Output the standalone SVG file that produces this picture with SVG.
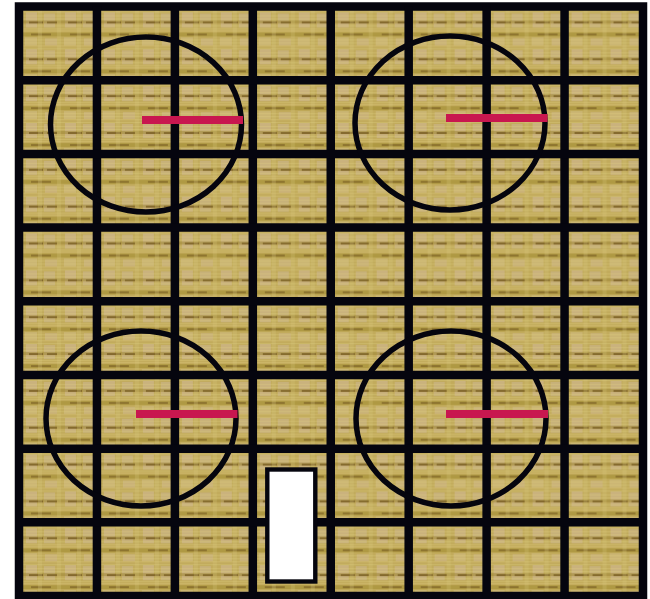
<svg xmlns="http://www.w3.org/2000/svg" width="650" height="599" viewBox="0 0 650 599">
  <style>
    .grid { stroke: #05050e; stroke-width: 8.5; fill: none; }
    .ring { stroke: #05050e; stroke-width: 5.5; fill: none; }
    .bar { stroke: #c8174f; stroke-width: 8; }
  </style>
  <defs>
    <pattern id="tex" patternUnits="userSpaceOnUse" x="23" y="10.5" width="38.97" height="36.845">
      <rect width="39" height="37" fill="#c2ab5c"/>
      <rect x="3" y="2" width="11" height="15" fill="#cfb893" opacity="0.6"/>
      <rect x="21" y="3" width="11" height="14" fill="#ccb591" opacity="0.55"/>
      <rect x="0" y="10" width="39" height="3" fill="#9a8232" opacity="0.5"/>
      <rect x="6" y="11" width="14" height="2" fill="#74581e" opacity="0.75"/>
      <rect x="24" y="11" width="10" height="2" fill="#74581e" opacity="0.7"/>
      <rect x="0" y="22" width="39" height="4" fill="#a08a30" opacity="0.55"/>
      <rect x="8" y="23" width="20" height="2" fill="#7a6024" opacity="0.65"/>
      <rect x="2" y="27" width="12" height="8" fill="#d4c08a" opacity="0.5"/>
      <rect x="22" y="28" width="12" height="7" fill="#cfb892" opacity="0.5"/>
      <rect x="15" y="0" width="4" height="37" fill="#d6c67a" opacity="0.3"/>
      <rect x="34" y="0" width="4" height="37" fill="#d6c67a" opacity="0.25"/>
      <g fill="#e2d283" opacity="0.3">
        <rect x="0" y="1" width="39" height="1"/>
        <rect x="0" y="5" width="39" height="1"/>
        <rect x="0" y="8" width="39" height="1"/>
        <rect x="0" y="15" width="39" height="1"/>
        <rect x="0" y="18" width="39" height="1"/>
        <rect x="0" y="20" width="39" height="1"/>
        <rect x="0" y="29" width="39" height="1"/>
        <rect x="0" y="32" width="39" height="1"/>
        <rect x="0" y="35" width="39" height="1"/>
      </g>
    </pattern>
  </defs>

  <rect width="650" height="599" fill="#ffffff"/>

  <g id="board">
    <rect x="19" y="6.5" width="623.5" height="589.5" fill="url(#tex)"/>
  </g>

  <g id="grid" class="grid">
    <rect x="19" y="6.5" width="624" height="589.5"/>
    <line x1="96.94" y1="6.5" x2="96.94" y2="596"/>
    <line x1="174.88" y1="6.5" x2="174.88" y2="596"/>
    <line x1="252.81" y1="6.5" x2="252.81" y2="596"/>
    <line x1="330.75" y1="6.5" x2="330.75" y2="596"/>
    <line x1="408.69" y1="6.5" x2="408.69" y2="596"/>
    <line x1="486.63" y1="6.5" x2="486.63" y2="596"/>
    <line x1="564.56" y1="6.5" x2="564.56" y2="596"/>
    <line x1="19" y1="80.19" x2="643" y2="80.19"/>
    <line x1="19" y1="153.88" x2="643" y2="153.88"/>
    <line x1="19" y1="227.56" x2="643" y2="227.56"/>
    <line x1="19" y1="301.25" x2="643" y2="301.25"/>
    <line x1="19" y1="374.94" x2="643" y2="374.94"/>
    <line x1="19" y1="448.63" x2="643" y2="448.63"/>
    <line x1="19" y1="522.31" x2="643" y2="522.31"/>
  </g>

  <g id="circle-top-left">
    <ellipse class="ring" cx="146" cy="124.5" rx="95.5" ry="87.5"/>
    <line class="bar" x1="142" y1="120" x2="243" y2="120"/>
  </g>
  <g id="circle-top-right">
    <ellipse class="ring" cx="450" cy="123" rx="95" ry="87"/>
    <line class="bar" x1="446" y1="118" x2="547.5" y2="118"/>
  </g>
  <g id="circle-bottom-left">
    <ellipse class="ring" cx="141" cy="418.5" rx="95" ry="87.5"/>
    <line class="bar" x1="136" y1="414" x2="237.5" y2="414"/>
  </g>
  <g id="circle-bottom-right">
    <ellipse class="ring" cx="451" cy="418.5" rx="95" ry="87.5"/>
    <line class="bar" x1="446" y1="414" x2="548" y2="414"/>
  </g>

  <g id="door">
    <rect x="267.3" y="469.5" width="48" height="112" fill="#ffffff" stroke="#05050e" stroke-width="4.4"/>
  </g>
</svg>
